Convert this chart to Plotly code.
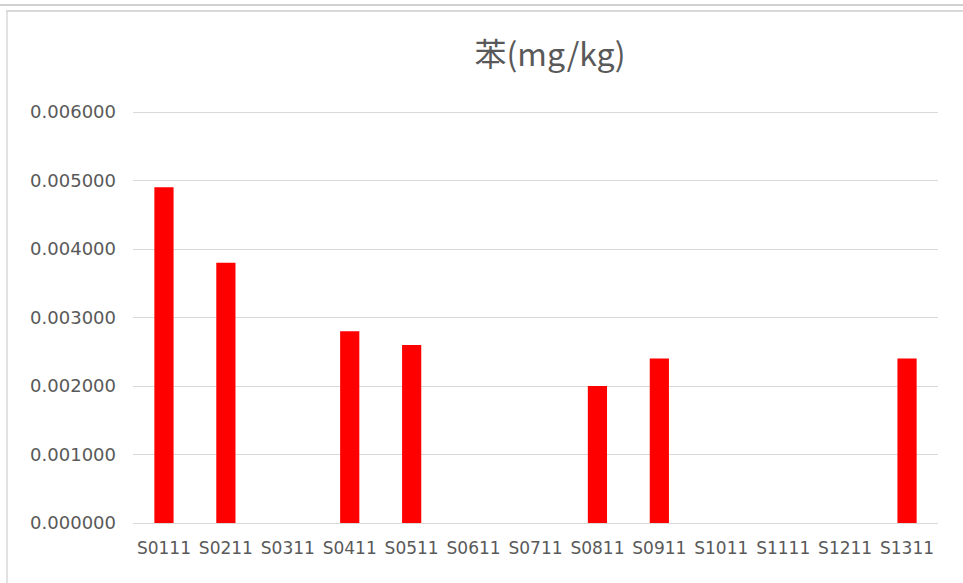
import plotly.graph_objects as go

categories = ["S0111", "S0211", "S0311", "S0411", "S0511", "S0611", "S0711",
              "S0811", "S0911", "S1011", "S1111", "S1211", "S1311"]
values = [0.0049, 0.0038, None, 0.0028, 0.0026, None, None,
          0.0020, 0.0024, None, None, None, 0.0024]
tick_vals = [0, 0.001, 0.002, 0.003, 0.004, 0.005, 0.006]
tick_text = ["0.000000", "0.001000", "0.002000", "0.003000", "0.004000", "0.005000", "0.006000"]
title_text = "苯(mg/kg)"

fig = go.Figure(go.Bar(x=categories, y=values, marker=dict(color="#ff0000", line=dict(width=0))))

W, H = 963, 583
L, R, T, B = 133, 25, 111, 60

fig.update_layout(
    width=W, height=H,
    margin=dict(l=L, r=R, t=T, b=B, pad=0),
    paper_bgcolor="white", plot_bgcolor="white",
    bargap=0.69,
    showlegend=False,
    title=dict(text=title_text, x=550 / W, xref="container", xanchor="center",
               y=1 - 55 / H, yref="container", yanchor="middle",
               font=dict(family="Noto Sans CJK SC", size=32, color="#595959")),
    font=dict(family="DejaVu Sans", size=17, color="#595959"),
    xaxis=dict(showgrid=False, showline=True, linecolor="#d9d9d9", linewidth=1,
               ticks="", tickfont=dict(size=17, color="#595959"), ticklabelstandoff=10,
               tickangle=0),
    yaxis=dict(range=[0, 0.006015], tickvals=tick_vals, ticktext=tick_text,
               showgrid=True, gridcolor="#d9d9d9", gridwidth=1, zeroline=False,
               ticks="", ticklabelstandoff=16, tickfont=dict(size=18, color="#595959")),
)

def px_x(x):
    return (x - L) / (W - L - R)

def px_y(y):
    return (H - B - y) / (H - T - B)

fig.add_shape(type="line", xref="paper", yref="paper", x0=px_x(0), x1=px_x(W), y0=px_y(5), y1=px_y(5),
              line=dict(color="#d0d0d0", width=2))
fig.add_shape(type="line", xref="paper", yref="paper", x0=px_x(6), x1=px_x(W), y0=px_y(11), y1=px_y(11),
              line=dict(color="#d9d9d9", width=2))
fig.add_shape(type="line", xref="paper", yref="paper", x0=px_x(7), x1=px_x(7), y0=px_y(11), y1=px_y(H),
              line=dict(color="#d9d9d9", width=1.5))

fig.write_html("out.html", config={"displayModeBar": False},
               post_script="document.body.style.margin='0';document.body.style.overflow='hidden';")
